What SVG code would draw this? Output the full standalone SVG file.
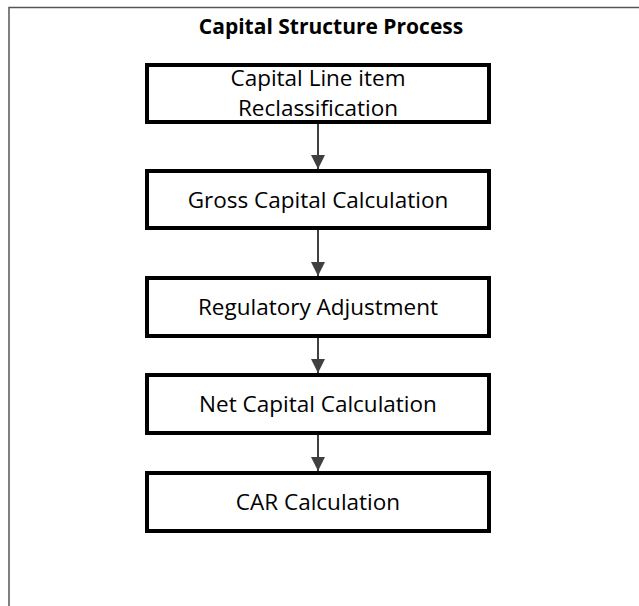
<svg xmlns="http://www.w3.org/2000/svg" width="639" height="606" viewBox="0 0 639 606">
<defs>
<style>
.box{fill:#fff;stroke:#000;stroke-width:4;}
.lbl{font-family:"Open Sans","Liberation Sans",sans-serif;font-size:22.5px;fill:#000;text-anchor:middle;}
.title{font-family:"Open Sans","Liberation Sans",sans-serif;font-size:21px;font-weight:bold;fill:#000;text-anchor:middle;}
.conn{stroke:#404040;stroke-width:2;fill:none;marker-end:url(#arr);}
.frame{stroke:#555;stroke-width:1.5;fill:none;}
</style>
<marker id="arr" markerWidth="16" markerHeight="14" refX="14" refY="7" orient="auto" markerUnits="userSpaceOnUse" viewBox="0 0 16 14">
<path d="M0,0 L14,7 L0,14 Z" fill="#404040"/>
</marker>
</defs>
<rect width="639" height="606" fill="#fff"/>
<path class="frame" d="M9,606 L9,7.5 L639,7.5"/>
<text class="title" x="331" y="34">Capital Structure Process</text>
<g id="connectors">
<line class="conn" x1="318" y1="122" x2="318" y2="169"/>
<line class="conn" x1="318" y1="228" x2="318" y2="276"/>
<line class="conn" x1="318" y1="336" x2="318" y2="373"/>
<line class="conn" x1="318" y1="433" x2="318" y2="471"/>
</g>
<g id="n1"><rect class="box" x="147" y="65" width="342" height="57"/><text class="lbl" x="318" y="86">Capital Line item</text><text class="lbl" x="318" y="115.5">Reclassification</text></g>
<g id="n2"><rect class="box" x="147" y="171" width="342" height="57"/><text class="lbl" x="318" y="208">Gross Capital Calculation</text></g>
<g id="n3"><rect class="box" x="147" y="278" width="342" height="58"/><text class="lbl" x="318" y="315">Regulatory Adjustment</text></g>
<g id="n4"><rect class="box" x="147" y="375" width="342" height="58"/><text class="lbl" x="318" y="412">Net Capital Calculation</text></g>
<g id="n5"><rect class="box" x="147" y="473" width="342" height="58"/><text class="lbl" x="318" y="510">CAR Calculation</text></g>
</svg>
